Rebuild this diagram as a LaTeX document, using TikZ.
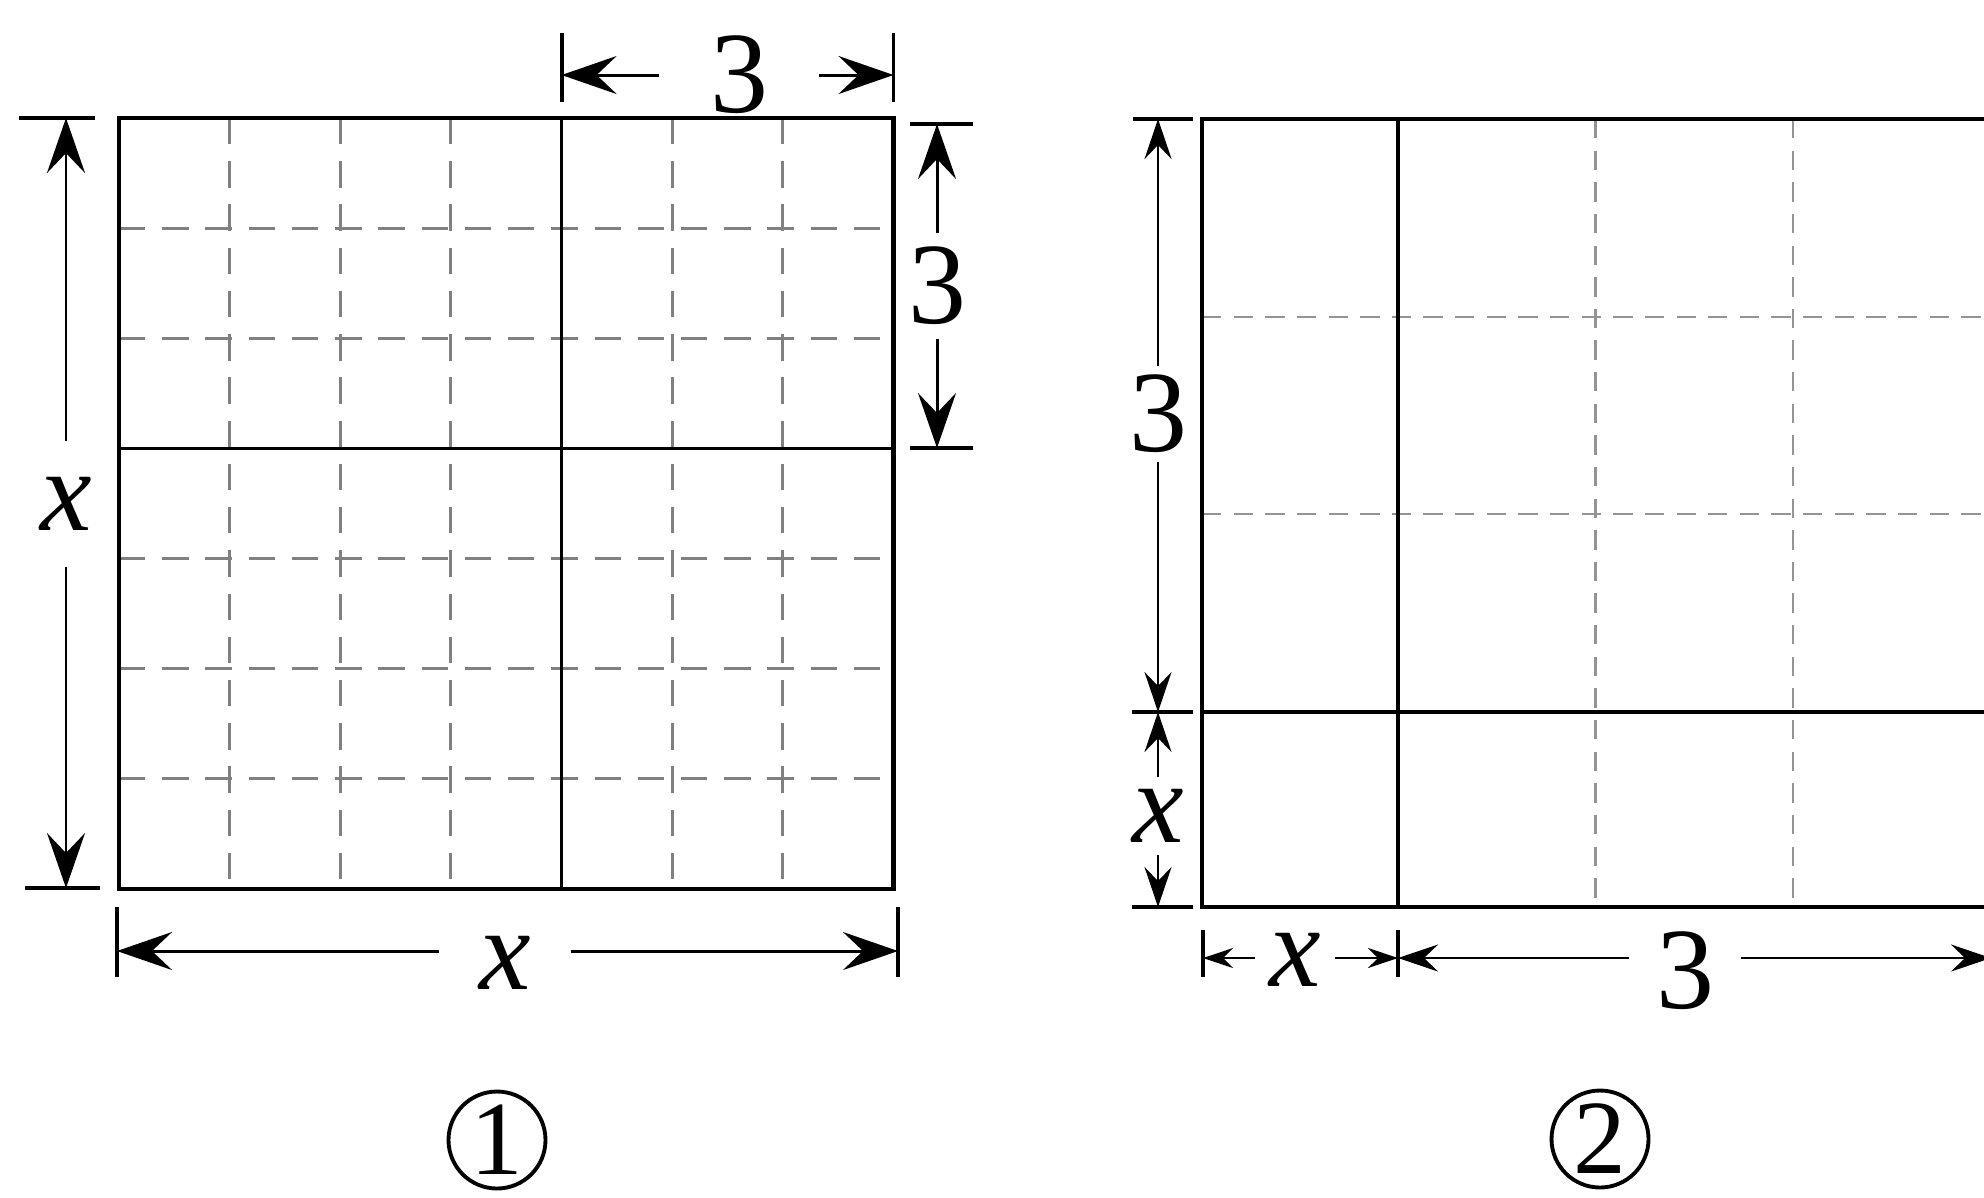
\documentclass[tikz,border=0pt]{standalone}
\usepackage{fontspec}
\setmainfont{Liberation Serif}
\usepackage{xcolor}
\usetikzlibrary{arrows.meta}
\definecolor{gridgray}{RGB}{128,128,128}
\definecolor{gridlight}{RGB}{148,148,148}

\begin{document}
\begin{tikzpicture}[
  dimbig/.style={-{Stealth[length=5.5mm, width=3.8mm, inset=2mm]}, line width=0.85pt},
  dimmid/.style={-{Stealth[length=4mm, width=2.7mm, inset=1.4mm]}, line width=0.8pt},
  dimsmall/.style={-{Stealth[length=3mm, width=2mm, inset=1mm]}, line width=0.8pt},
  tick/.style={line width=1.1pt},
  lab/.style={font=\fontsize{33}{36}\selectfont, inner sep=0pt},
  numcirc/.style={circle, draw, line width=1.1pt, minimum size=9.7mm, inner sep=0pt, font=\fontsize{30}{32}\selectfont},
  dashone/.style={gridgray, line width=0.85pt, dash pattern=on 7.5pt off 4.8pt},
  dashtwo/.style={gridlight, line width=0.6pt, dash pattern=on 5.5pt off 3.5pt}
]
\useasboundingbox (0,0) rectangle (19.84,-11.97);
\clip (0,0) rectangle (19.84,-11.97);

% figure 1: the square of side x
\foreach \i in {1,2,3,5,6} {
  \draw[dashone] ({1.19+\i*1.1064},-1.18) -- ({1.19+\i*1.1064},-8.89);
  \draw[dashone] (1.19,{-8.89+\i*1.1014}) -- (8.935,{-8.89+\i*1.1014});
}
\draw[line width=1.05pt] (5.616,-1.18) -- (5.616,-8.89);
\draw[line width=1.05pt] (1.19,-4.484) -- (8.935,-4.484);
\draw[line width=1.3pt] (1.19,-8.89) rectangle (8.935,-1.18);

% top 3
\draw[tick] (5.616,-0.33) -- (5.616,-1.02);
\draw[tick] (8.935,-0.33) -- (8.935,-1.02);
\node[lab, inner xsep=5mm] (top3) at (7.39,-0.75) {3};
\coordinate (top3l) at (5.616,-0.75);
\coordinate (top3r) at (8.935,-0.75);
\draw[dimbig] (top3) -- (top3l);
\draw[dimbig] (top3) -- (top3r);

% right 3
\draw[tick] (9.10,-1.24) -- (9.73,-1.24);
\draw[tick] (9.10,-4.48) -- (9.73,-4.48);
\node[lab, inner ysep=1.3mm] (rt3) at (9.37,-2.86) {3};
\coordinate (rt3u) at (9.37,-1.24);
\coordinate (rt3d) at (9.37,-4.48);
\draw[dimbig] (rt3) -- (rt3u);
\draw[dimbig] (rt3) -- (rt3d);

% left x
\draw[tick] (0.19,-1.18) -- (0.95,-1.18);
\draw[tick] (0.25,-8.88) -- (1.00,-8.88);
\node[lab, inner ysep=3.6mm] (lfx) at (0.66,-5.04) {\textit{x}};
\coordinate (lfxu) at (0.66,-1.18);
\coordinate (lfxd) at (0.66,-8.88);
\draw[dimbig] (lfx) -- (lfxu);
\draw[dimbig] (lfx) -- (lfxd);

% bottom x (label sits a little under the line)
\draw[tick] (1.17,-9.07) -- (1.17,-9.77);
\draw[tick] (8.98,-9.07) -- (8.98,-9.77);
\node[lab, inner xsep=4mm] (btx) at (5.05,-9.63) {\textit{x}};
\coordinate (btxl) at (1.17,-9.51);
\coordinate (btxr) at (8.98,-9.51);
\draw[dimbig] (btx.west |- btxl) -- (btxl);
\draw[dimbig] (btx.east |- btxr) -- (btxr);

\node[numcirc] (num1) at (4.97,-11.40) {1};

% figure 2: the rectangle with the strip x
\foreach \i in {1,2} {
  \draw[dashtwo] ({13.98+\i*1.975},-1.19) -- ({13.98+\i*1.975},-9.07);
  \draw[dashtwo] (12.02,{-1.19-\i*1.977}) -- (19.91,{-1.19-\i*1.977});
}
\draw[line width=0.9pt] (13.98,-1.19) -- (13.98,-9.07);
\draw[line width=0.9pt] (12.02,-7.12) -- (19.91,-7.12);
\draw[line width=1.1pt] (12.02,-9.07) rectangle (19.91,-1.19);

% left 3 and x
\draw[tick] (11.33,-1.19) -- (11.93,-1.19);
\draw[tick] (11.32,-7.12) -- (11.93,-7.12);
\draw[tick] (11.32,-9.07) -- (11.93,-9.07);
\node[lab, inner ysep=0.8mm] (lf3) at (11.58,-4.14) {3};
\coordinate (lf3u) at (11.58,-1.19);
\coordinate (lf3d) at (11.58,-7.12);
\draw[dimmid] (lf3) -- (lf3u);
\draw[dimmid] (lf3) -- (lf3d);
\node[lab, inner ysep=1.2mm] (lfx2) at (11.58,-8.16) {\textit{x}};
\coordinate (lfx2u) at (11.58,-7.12);
\coordinate (lfx2d) at (11.58,-9.07);
\draw[dimmid] (lfx2) -- (lfx2u);
\draw[dimmid] (lfx2) -- (lfx2d);

% bottom x and 3
\draw[tick] (12.03,-9.30) -- (12.03,-9.77);
\draw[tick] (13.98,-9.30) -- (13.98,-9.77);
\draw[tick] (19.91,-9.30) -- (19.91,-9.77);
\node[lab, inner xsep=1.4mm] (btx2) at (12.95,-9.60) {\textit{x}};
\coordinate (btx2l) at (12.03,-9.58);
\coordinate (btx2r) at (13.98,-9.58);
\draw[dimsmall] (btx2.west |- btx2l) -- (btx2l);
\draw[dimsmall] (btx2.east |- btx2r) -- (btx2r);
\node[lab, inner xsep=2.6mm] (bt3) at (16.85,-9.71) {3};
\coordinate (bt3l) at (13.98,-9.58);
\coordinate (bt3r) at (19.91,-9.58);
\draw[dimmid] (bt3.west |- bt3l) -- (bt3l);
\draw[dimmid] (bt3.east |- bt3r) -- (bt3r);

\node[numcirc] (num2) at (16.00,-11.39) {2};
\end{tikzpicture}
\end{document}
